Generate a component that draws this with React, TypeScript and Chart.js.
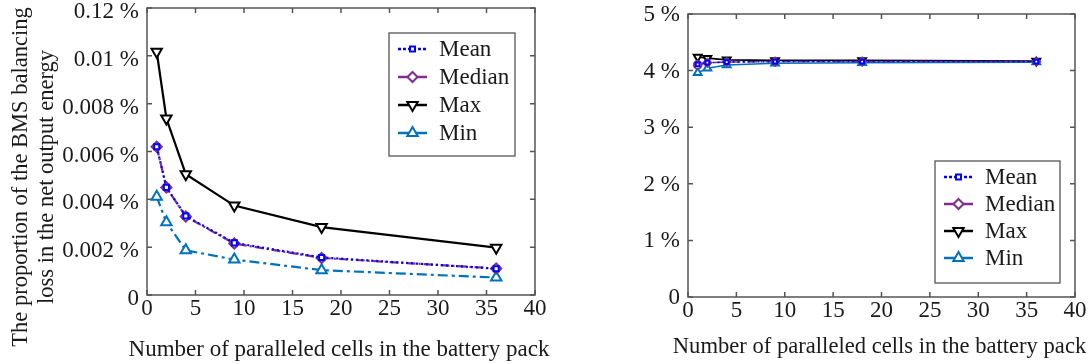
import React, { useEffect, useRef } from "react";
import { Chart, registerables } from "chart.js";
import { drawPoint } from "chart.js/helpers";

Chart.register(...registerables);

// ---------- data ----------
const cells = [1, 2, 4, 9, 18, 36];

// left: BMS balancing loss (%)
const lossMean = [0.0062, 0.0045, 0.0033, 0.00218, 0.00157, 0.0011];
const lossMedian = [0.0062, 0.0045, 0.00328, 0.00215, 0.00155, 0.00111];
const lossMax = [0.01017, 0.00738, 0.00505, 0.00374, 0.00284, 0.00198];
const lossMin = [0.00411, 0.00304, 0.00187, 0.00148, 0.00104, 0.00073];

// right: proportion (%)
const effMean = [4.11, 4.14, 4.15, 4.16, 4.16, 4.16];
const effMedian = [4.1, 4.14, 4.15, 4.16, 4.16, 4.16];
const effMax = [4.24, 4.22, 4.19, 4.18, 4.18, 4.17];
const effMin = [3.96, 4.04, 4.1, 4.13, 4.14, 4.15];

const xTicks = [0, 5, 10, 15, 20, 25, 30, 35, 40];
const leftYTicks = [0, 0.002, 0.004, 0.006, 0.008, 0.01, 0.012];
const leftYLabels = ["0", "0.002 %", "0.004 %", "0.006 %", "0.008 %", "0.01 %", "0.12 %"];
const rightYTicks = [0, 1, 2, 3, 4, 5];
const rightYLabels = ["0", "1 %", "2 %", "3 %", "4 %", "5 %"];
const seriesNames = ["Mean", "Median", "Max", "Min"];
const xTitle = "Number of paralleled cells in the battery pack";
const leftYTitle = ["The proportion of the BMS balancing", "loss in the net output energy"];

// ---------- styles ----------
const FONT = '"Liberation Serif", "Times New Roman", serif';
const AXIS_COLOR = "#555555";
const TEXT_COLOR = "#1a1a1a";

type Variant = { dash: number[][]; width: number; r: number; medianStyle: any };

function makeDatasets(mean: number[], median: number[], max: number[], min: number[], v: Variant) {
  const toPts = (arr: number[]) => cells.map((x, i) => ({ x, y: arr[i] }));
  return [
    {
      label: seriesNames[0],
      data: toPts(mean),
      borderColor: "#0000ff",
      borderWidth: v.width,
      borderDash: v.dash[0],
      pointStyle: "rect",
      legendStyle: "rect",
      pointRadius: v.r * 0.6,
      legendRadius: 3.5,
      pointBorderWidth: 2,
      pointBorderColor: "#0000ff",
      pointBackgroundColor: "#ffffff",
      pointRotation: 0,
    },
    {
      label: seriesNames[1],
      data: toPts(median),
      borderColor: "#7e2f8e",
      borderWidth: v.width,
      borderDash: v.dash[1],
      pointStyle: v.medianStyle,
      legendStyle: "rectRot",
      pointRadius: v.r * 0.85,
      legendRadius: 5,
      pointBorderWidth: 2,
      pointBorderColor: "#7e2f8e",
      pointBackgroundColor: "#ffffff",
      pointRotation: 0,
    },
    {
      label: seriesNames[2],
      data: toPts(max),
      borderColor: "#000000",
      borderWidth: v.width,
      borderDash: v.dash[2],
      pointStyle: "triangle",
      legendStyle: "triangle",
      pointRotation: 180,
      pointRadius: v.r,
      legendRadius: 6,
      pointBorderWidth: 2,
      pointBorderColor: "#000000",
      pointBackgroundColor: "#ffffff",
    },
    {
      label: seriesNames[3],
      data: toPts(min),
      borderColor: "#0072bd",
      borderWidth: v.width,
      borderDash: v.dash[3],
      pointStyle: "triangle",
      legendStyle: "triangle",
      pointRotation: 0,
      pointRadius: v.r,
      legendRadius: 6,
      pointBorderWidth: 2,
      pointBorderColor: "#0072bd",
      pointBackgroundColor: "#ffffff",
    },
  ];
}

// ---------- plugins ----------
const framePlugin = {
  id: "frameTicks",
  beforeDatasetsDraw(chart: any) {
    const { ctx, chartArea: a, scales } = chart;
    ctx.save();
    ctx.strokeStyle = AXIS_COLOR;
    ctx.lineWidth = 1.5;
    ctx.strokeRect(a.left, a.top, a.right - a.left, a.bottom - a.top);
    const L = 5;
    ctx.beginPath();
    scales.x.ticks.forEach((t: any) => {
      const px = scales.x.getPixelForValue(t.value);
      ctx.moveTo(px, a.bottom);
      ctx.lineTo(px, a.bottom - L);
      ctx.moveTo(px, a.top);
      ctx.lineTo(px, a.top + L);
    });
    scales.y.ticks.forEach((t: any) => {
      const py = scales.y.getPixelForValue(t.value);
      ctx.moveTo(a.left, py);
      ctx.lineTo(a.left + L, py);
      ctx.moveTo(a.right, py);
      ctx.lineTo(a.right - L, py);
    });
    ctx.stroke();
    ctx.restore();
  },
};

const insetLegendPlugin = {
  id: "insetLegend",
  afterDraw(chart: any, _args: any, opts: any) {
    if (!opts || !opts.width) return;
    const { ctx, chartArea: a } = chart;
    const w = opts.width;
    const h = opts.height;
    const x = a.right - opts.right - w;
    const y = opts.top != null ? a.top + opts.top : a.bottom - opts.bottom - h;
    ctx.save();
    ctx.fillStyle = "#ffffff";
    ctx.fillRect(x, y, w, h);
    ctx.strokeStyle = AXIS_COLOR;
    ctx.lineWidth = 1.3;
    ctx.strokeRect(x, y, w, h);
    chart.data.datasets.forEach((ds: any, i: number) => {
      const cy = y + opts.firstRow + i * opts.rowGap;
      ctx.strokeStyle = ds.borderColor;
      ctx.lineWidth = 2.5;
      ctx.setLineDash(i === 0 ? [3, 2] : []);
      ctx.beginPath();
      ctx.moveTo(x + 9, cy);
      ctx.lineTo(x + 38, cy);
      ctx.stroke();
      ctx.setLineDash([]);
      ctx.fillStyle = ds.pointBackgroundColor;
      ctx.strokeStyle = ds.pointBorderColor;
      ctx.lineWidth = ds.pointBorderWidth;
      drawPoint(
        ctx,
        {
          pointStyle: ds.legendStyle,
          rotation: ds.pointRotation || 0,
          radius: ds.legendRadius,
          borderWidth: ds.pointBorderWidth,
        } as any,
        x + 23.5,
        cy
      );
      ctx.fillStyle = TEXT_COLOR;
      ctx.font = `23px ${FONT}`;
      ctx.textBaseline = "middle";
      ctx.textAlign = "left";
      ctx.fillText(ds.label, x + 50, cy + 1);
    });
    ctx.restore();
  },
};

const titlesPlugin = {
  id: "axisTitles",
  afterDraw(chart: any, _args: any, opts: any) {
    const { ctx, chartArea: a } = chart;
    ctx.save();
    ctx.fillStyle = TEXT_COLOR;
    ctx.textBaseline = "middle";
    ctx.textAlign = "center";
    if (opts.xTitle) {
      ctx.font = `${opts.xSize}px ${FONT}`;
      ctx.fillText(opts.xTitle, (a.left + a.right) / 2 + (opts.xShift || 0), opts.xTitleY);
    }
    if (opts.yTitle) {
      ctx.font = `${opts.ySize}px ${FONT}`;
      opts.yTitle.forEach((line: string, i: number) => {
        ctx.save();
        ctx.translate(opts.yTitleX[i], opts.yTitleCY);
        ctx.rotate(-Math.PI / 2);
        ctx.fillText(line, 0, 0);
        ctx.restore();
      });
    }
    ctx.restore();
  },
};

function makeConfig(p: {
  datasets: any[];
  yTicks: number[];
  yLabels: string[];
  yMax: number;
  yWidth: number;
  xHeight: number;
  padding: any;
  labelOffset: number;
  legend: any;
  titles: any;
}) {
  const tickFont = { family: FONT, size: 23 };
  return {
    type: "line",
    data: { datasets: p.datasets },
    options: {
      responsive: false,
      animation: false,
      devicePixelRatio: 1,
      layout: { padding: p.padding },
      plugins: {
        legend: { display: false },
        tooltip: { enabled: false },
        insetLegend: p.legend,
        axisTitles: p.titles,
      },
      elements: { line: { tension: 0, fill: false } },
      scales: {
        x: {
          type: "linear",
          min: 0,
          max: 40,
          afterBuildTicks: (s: any) => {
            s.ticks = xTicks.map((v) => ({ value: v }));
          },
          afterFit: (s: any) => {
            s.height = p.xHeight;
            s.paddingLeft = 0;
            s.paddingRight = 0;
            s.paddingTop = 0;
            s.paddingBottom = 0;
          },
          grid: { display: false, drawTicks: false },
          border: { display: false },
          ticks: {
            font: tickFont,
            color: TEXT_COLOR,
            padding: 0,
            maxRotation: 0,
            autoSkip: false,
            callback: (v: any) => String(v),
          },
        },
        y: {
          type: "linear",
          min: 0,
          max: p.yMax,
          afterBuildTicks: (s: any) => {
            s.ticks = p.yTicks.map((v) => ({ value: v }));
          },
          afterFit: (s: any) => {
            s.width = p.yWidth;
            s.paddingLeft = 0;
            s.paddingRight = 0;
            s.paddingTop = 0;
            s.paddingBottom = 0;
          },
          grid: { display: false, drawTicks: false },
          border: { display: false },
          ticks: {
            font: tickFont,
            color: TEXT_COLOR,
            padding: 8,
            labelOffset: p.labelOffset,
            autoSkip: false,
            callback: (_v: any, i: number) => p.yLabels[i],
          },
        },
      },
    },
    plugins: [framePlugin, insetLegendPlugin, titlesPlugin],
  };
}

function ChartCanvas({ config, left, width }: { config: any; left: number; width: number }) {
  const ref = useRef<HTMLCanvasElement | null>(null);
  useEffect(() => {
    if (!ref.current) return;
    const chart = new Chart(ref.current, config);
    return () => chart.destroy();
  }, [config]);
  return (
    <canvas
      ref={ref}
      width={width}
      height={364}
      style={{ position: "absolute", left, top: 0, width, height: 364 }}
    />
  );
}

const leftConfig = makeConfig({
  datasets: makeDatasets(lossMean, lossMedian, lossMax, lossMin, {
    dash: [[2, 3], [9, 3, 2, 3], [], [10, 4, 3, 4]],
    width: 2.2,
    r: 6,
    medianStyle: "rectRot",
  }),
  yTicks: leftYTicks,
  yLabels: leftYLabels,
  yMax: 0.012,
  yWidth: 147,
  xHeight: 69,
  padding: { left: 0, top: 7, right: 65, bottom: 0 },
  labelOffset: 4,
  legend: { right: 20, top: 25, width: 126, height: 123, firstRow: 16, rowGap: 28 },
  titles: {
    xTitle: xTitle,
    xTitleY: 350,
    xSize: 23,
    xShift: -2,
    yTitle: leftYTitle,
    ySize: 22.5,
    yTitleX: [21, 47],
    yTitleCY: 177,
  },
});

const rightConfig = makeConfig({
  datasets: makeDatasets(effMean, effMedian, effMax, effMin, {
    dash: [[2, 3], [9, 3, 2, 3], [], []],
    width: 1.6,
    r: 4.5,
    medianStyle: ["circle", "rectRot", "rectRot", "rectRot", "rectRot", "rectRot"],
  }),
  yTicks: rightYTicks,
  yLabels: rightYLabels,
  yMax: 5,
  yWidth: 48,
  xHeight: 67,
  padding: { left: 0, top: 14, right: 14, bottom: 0 },
  labelOffset: 1,
  legend: { right: 15, bottom: 14, width: 125, height: 122, firstRow: 16, rowGap: 27 },
  titles: {
    xTitle: xTitle,
    xTitleY: 347,
    xSize: 22.6,
    xShift: -2,
  },
});

export default function App() {
  return (
    <div
      style={{
        position: "absolute",
        left: 0,
        top: 0,
        width: 1089,
        height: 364,
        background: "#ffffff",
        overflow: "hidden",
      }}
    >
      <ChartCanvas config={leftConfig} left={0} width={600} />
      <ChartCanvas config={rightConfig} left={640} width={449} />
    </div>
  );
}
